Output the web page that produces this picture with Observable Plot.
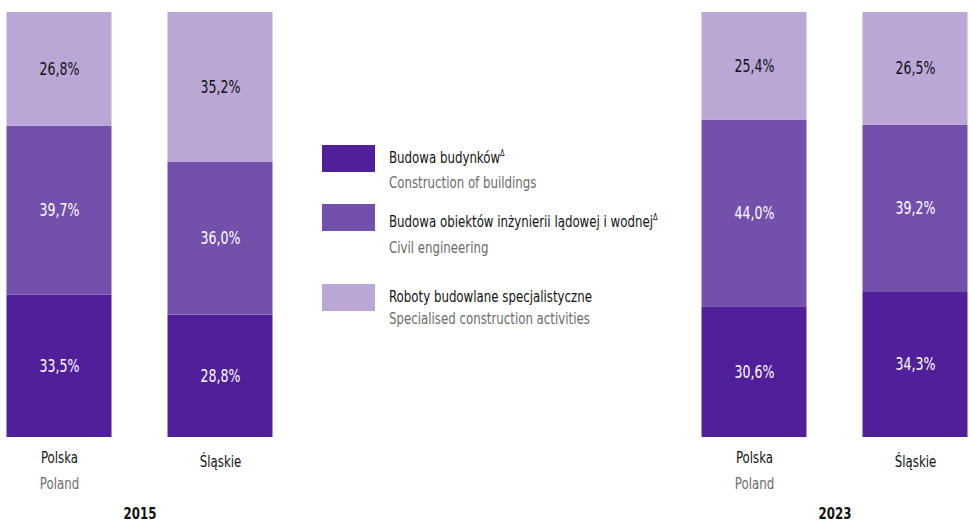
<!DOCTYPE html>
<html>
<head>
<meta charset="utf-8">
<script src="https://cdn.jsdelivr.net/npm/d3@7"></script>
<script src="https://cdn.jsdelivr.net/npm/@observablehq/plot@0.6"></script>
<style>
  html, body { margin: 0; padding: 0; background: #fff; }
  #wrap { position: relative; width: 969px; height: 524px; overflow: hidden; }
  .font { font-family: "Liberation Sans Narrow", "DejaVu Sans Condensed", "Arial Narrow", sans-serif; }
  .lg-sw { position: absolute; width: 53px; height: 27px; }
  .lg-t { position: absolute; font-size: 16px; line-height: 18px; white-space: nowrap; transform: scaleX(0.82); transform-origin: 0 50%; }
  .lg-pl { color: #111; }
  .lg-en { color: #6b6b6b; }
  sup { font-size: 9px; vertical-align: 7px; line-height: 0; }
</style>
</head>
<body>
<div id="wrap" class="font"></div>
<script>
// ---- data ----
const years = ["2015", "2023"];
const regions = ["Polska", "Śląskie"];
const regionsEn = ["Poland", ""];
const seriesPl = ["Budowa budynków", "Budowa obiektów inżynierii lądowej i wodnej", "Roboty budowlane specjalistyczne"];
const seriesEn = ["Construction of buildings", "Civil engineering", "Specialised construction activities"];
const seriesMark = ["Δ", "Δ", ""];
const colors = ["#50209a", "#7250ac", "#baa7d6"];

const polska2015 = [33.5, 39.7, 26.8];
const slaskie2015 = [28.8, 36.0, 35.2];
const polska2023 = [30.6, 44.0, 25.4];
const slaskie2023 = [34.3, 39.2, 26.5];

// ---- build table ----
const groups = [
  {year: "2015", region: "Polska", vals: polska2015},
  {year: "2015", region: "Śląskie", vals: slaskie2015},
  {year: "2023", region: "Polska", vals: polska2023},
  {year: "2023", region: "Śląskie", vals: slaskie2023}
];
const rows = groups.flatMap(g => g.vals.map((v, i) => ({year: g.year, region: g.region, series: seriesPl[i], value: v})));
const labelRows = years.flatMap(y => regions.map((r, i) => ({year: y, region: r, en: regionsEn[i]})));
const fmt = v => d3.format(".1f")(v).replace(".", ",") + "%";
const FONT = '"Liberation Sans Narrow", "DejaVu Sans Condensed", "Arial Narrow", sans-serif';
const light = seriesPl[2];

const stackOpts = extra => Plot.stackY({fx: "year", x: "region", y: "value", z: "series", order: seriesPl, ...extra});

const chart = Plot.plot({
  width: 969,
  height: 524,
  marginTop: 12,
  marginBottom: 87,
  marginLeft: 5.5,
  marginRight: 1,
  style: {fontFamily: FONT, fontSize: "16px", background: "white", overflow: "visible"},
  fx: {domain: years, paddingInner: 0.616, paddingOuter: 0, axis: null, label: null},
  x: {domain: regions, paddingInner: 0.35, paddingOuter: 0, axis: null, label: null},
  y: {domain: [0, 100], axis: null, label: null},
  color: {domain: seriesPl, range: colors},
  marks: [
    Plot.barY(rows, stackOpts({fill: "series"})),
    Plot.text(rows, stackOpts({text: d => d.series === light ? null : fmt(d.value), fill: "white", fontSize: 17})),
    Plot.text(rows, stackOpts({text: d => d.series === light ? fmt(d.value) : null, fill: "#111", fontSize: 17})),
    Plot.text(labelRows, {fx: "year", x: "region", text: d => d.en ? d.region : null, frameAnchor: "bottom", dy: 25, fill: "#111", fontSize: 16}),
    Plot.text(labelRows, {fx: "year", x: "region", text: d => d.en ? null : d.region, frameAnchor: "bottom", dy: 29, fill: "#111", fontSize: 16}),
    Plot.text(labelRows, {fx: "year", x: "region", text: d => d.en || null, frameAnchor: "bottom", dy: 51, fill: "#6b6b6b", fontSize: 16}),
    Plot.text(years, {fx: d => d, text: d => d, frameAnchor: "bottom", dy: 81, fill: "#111", fontSize: 16, fontWeight: "bold"})
  ]
});

// narrow the glyphs to mimic the condensed typeface of the original
chart.querySelectorAll("text").forEach(t => {
  const tr = t.getAttribute("transform") || "";
  t.setAttribute("transform", (tr + " scale(0.82,1)").trim());
});

const wrap = document.getElementById("wrap");
wrap.appendChild(chart);

// ---- legend (overlay) ----
const swTops = [145, 204, 284];
const l1Tops = [149, 213, 288];
const l2Tops = [174, 239, 310];
seriesPl.forEach((s, i) => {
  const sw = document.createElement("div");
  sw.className = "lg-sw";
  sw.style.left = "322px";
  sw.style.top = swTops[i] + "px";
  sw.style.background = colors[i];
  wrap.appendChild(sw);
  const t1 = document.createElement("div");
  t1.className = "lg-t lg-pl";
  t1.style.left = "389px";
  t1.style.top = l1Tops[i] + "px";
  t1.textContent = s;
  if (seriesMark[i]) {
    const sup = document.createElement("sup");
    sup.textContent = seriesMark[i];
    t1.appendChild(sup);
  }
  wrap.appendChild(t1);
  const t2 = document.createElement("div");
  t2.className = "lg-t lg-en";
  t2.style.left = "389px";
  t2.style.top = l2Tops[i] + "px";
  t2.textContent = seriesEn[i];
  wrap.appendChild(t2);
});
chart.style.position = "absolute";
chart.style.left = "0";
chart.style.top = "0";
</script>
</body>
</html>
